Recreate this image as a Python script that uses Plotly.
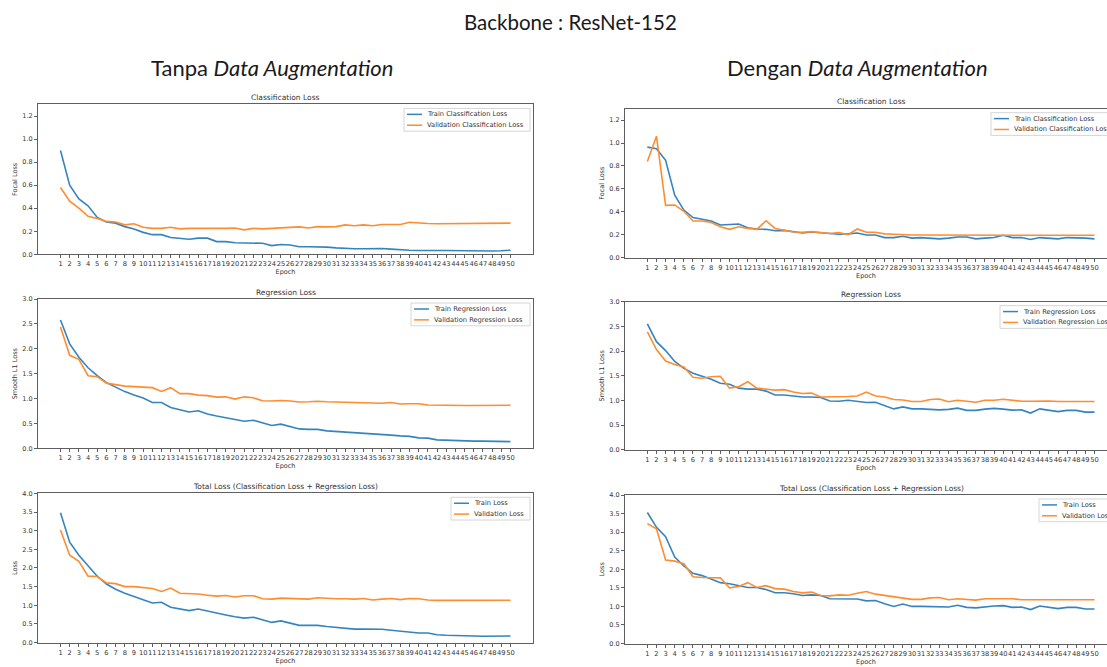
import plotly.graph_objects as go

W, H = 1107, 667

# ---------------- data ----------------
epochs = list(range(1, 51))
epoch_labels = [str(e) for e in epochs]

left_cls_train = [0.90, 0.60, 0.48, 0.42, 0.32, 0.28, 0.27, 0.24, 0.22, 0.19,
                  0.17, 0.17, 0.145, 0.14, 0.13, 0.14, 0.14, 0.11, 0.11, 0.10,
                  0.10, 0.10, 0.095, 0.075, 0.085, 0.08, 0.065, 0.065, 0.065, 0.062,
                  0.055, 0.05, 0.048, 0.048, 0.05, 0.05, 0.045, 0.038, 0.035, 0.032,
                  0.035, 0.033, 0.032, 0.03, 0.03, 0.03, 0.03, 0.028, 0.03, 0.035]
left_cls_val = [0.58, 0.46, 0.40, 0.33, 0.31, 0.285, 0.28, 0.255, 0.265, 0.235,
                0.225, 0.225, 0.235, 0.22, 0.225, 0.225, 0.22, 0.22, 0.225, 0.228,
                0.212, 0.225, 0.22, 0.225, 0.23, 0.232, 0.238, 0.228, 0.24, 0.238,
                0.24, 0.255, 0.248, 0.255, 0.248, 0.258, 0.258, 0.258, 0.278, 0.27,
                0.267, 0.265, 0.265, 0.267, 0.267, 0.267, 0.27, 0.27, 0.27, 0.27]
right_cls_train = [0.965, 0.95, 0.85, 0.545, 0.415, 0.35, 0.335, 0.32, 0.285, 0.29,
                   0.293, 0.26, 0.25, 0.247, 0.235, 0.238, 0.224, 0.215, 0.224, 0.218,
                   0.207, 0.204, 0.207, 0.215, 0.198, 0.198, 0.175, 0.175, 0.187, 0.17,
                   0.175, 0.172, 0.164, 0.17, 0.18, 0.18, 0.164, 0.17, 0.175, 0.195,
                   0.175, 0.175, 0.158, 0.175, 0.172, 0.164, 0.175, 0.175, 0.17, 0.164]
right_cls_val = [0.84, 1.06, 0.456, 0.46, 0.405, 0.32, 0.32, 0.307, 0.27, 0.247,
                 0.27, 0.255, 0.247, 0.322, 0.255, 0.241, 0.224, 0.221, 0.227, 0.218,
                 0.21, 0.218, 0.2, 0.25, 0.221, 0.221, 0.207, 0.204, 0.198, 0.198,
                 0.197, 0.197, 0.197, 0.197, 0.197, 0.196, 0.196, 0.196, 0.196, 0.196,
                 0.196, 0.195, 0.195, 0.195, 0.195, 0.195, 0.195, 0.195, 0.195, 0.195]

left_reg_train = [2.58, 2.10, 1.83, 1.62, 1.46, 1.32, 1.23, 1.14, 1.07, 1.01,
                  0.92, 0.92, 0.82, 0.775, 0.73, 0.755, 0.69, 0.65, 0.62, 0.575,
                  0.545, 0.565, 0.505, 0.46, 0.485, 0.43, 0.39, 0.38, 0.38, 0.35,
                  0.34, 0.32, 0.305, 0.305, 0.30, 0.29, 0.265, 0.25, 0.24, 0.21,
                  0.205, 0.17, 0.16, 0.16, 0.152, 0.145, 0.145, 0.14, 0.14, 0.135]
left_reg_val = [2.44, 1.87, 1.79, 1.46, 1.44, 1.31, 1.28, 1.25, 1.24, 1.225,
                1.22, 1.145, 1.22, 1.10, 1.10, 1.07, 1.06, 1.03, 1.035, 0.99,
                1.035, 1.015, 0.955, 0.95, 0.96, 0.95, 0.93, 0.935, 0.945, 0.935,
                0.93, 0.915, 0.915, 0.915, 0.895, 0.905, 0.92, 0.89, 0.895, 0.895,
                0.87, 0.865, 0.865, 0.86, 0.86, 0.86, 0.865, 0.865, 0.865, 0.865]
right_reg_train = [2.55, 2.19, 2.01, 1.79, 1.65, 1.55, 1.49, 1.43, 1.35, 1.33,
                   1.25, 1.23, 1.23, 1.19, 1.11, 1.11, 1.09, 1.07, 1.07, 1.06,
                   0.99, 0.985, 1.005, 0.98, 0.96, 0.965, 0.90, 0.83, 0.87, 0.83,
                   0.83, 0.82, 0.81, 0.82, 0.845, 0.80, 0.80, 0.825, 0.84, 0.825,
                   0.805, 0.81, 0.745, 0.83, 0.80, 0.775, 0.80, 0.80, 0.765, 0.765]
right_reg_val = [2.39, 2.03, 1.80, 1.73, 1.68, 1.47, 1.45, 1.48, 1.49, 1.25,
                 1.28, 1.38, 1.25, 1.23, 1.21, 1.22, 1.17, 1.14, 1.15, 1.07,
                 1.07, 1.08, 1.08, 1.09, 1.17, 1.09, 1.07, 1.02, 1.01, 0.98,
                 0.98, 1.02, 1.03, 0.975, 1.005, 0.985, 0.965, 1.005, 1.005, 1.025,
                 1.005, 0.985, 0.985, 0.99, 0.99, 0.98, 0.98, 0.98, 0.98, 0.98]

left_tot_train = [3.48, 2.69, 2.34, 2.06, 1.78, 1.57, 1.43, 1.32, 1.245, 1.15,
                  1.06, 1.08, 0.945, 0.91, 0.855, 0.90, 0.84, 0.78, 0.74, 0.69,
                  0.655, 0.68, 0.60, 0.54, 0.58, 0.52, 0.46, 0.46, 0.46, 0.43,
                  0.41, 0.38, 0.36, 0.36, 0.36, 0.355, 0.33, 0.30, 0.28, 0.255,
                  0.255, 0.21, 0.195, 0.195, 0.185, 0.175, 0.17, 0.165, 0.165, 0.175]
left_tot_val = [3.02, 2.34, 2.18, 1.78, 1.77, 1.60, 1.58, 1.50, 1.50, 1.465,
                1.45, 1.37, 1.46, 1.32, 1.315, 1.30, 1.27, 1.245, 1.26, 1.22,
                1.255, 1.255, 1.175, 1.165, 1.19, 1.18, 1.165, 1.165, 1.20, 1.18,
                1.175, 1.175, 1.165, 1.18, 1.14, 1.165, 1.18, 1.15, 1.18, 1.175,
                1.14, 1.13, 1.13, 1.13, 1.13, 1.13, 1.135, 1.135, 1.135, 1.135]
right_tot_train = [3.53, 3.13, 2.88, 2.33, 2.09, 1.89, 1.83, 1.74, 1.64, 1.61,
                   1.55, 1.51, 1.51, 1.455, 1.37, 1.37, 1.34, 1.295, 1.31, 1.295,
                   1.205, 1.20, 1.215, 1.20, 1.15, 1.16, 1.07, 1.00, 1.065, 1.00,
                   1.00, 0.995, 0.975, 0.985, 1.03, 0.975, 0.96, 0.995, 1.01, 1.02,
                   0.975, 0.985, 0.915, 1.01, 0.975, 0.94, 0.975, 0.975, 0.93, 0.93]
right_tot_val = [3.23, 3.09, 2.25, 2.22, 2.15, 1.80, 1.78, 1.78, 1.77, 1.50,
                 1.535, 1.64, 1.51, 1.56, 1.48, 1.465, 1.40, 1.365, 1.385, 1.295,
                 1.285, 1.31, 1.30, 1.355, 1.40, 1.33, 1.295, 1.25, 1.23, 1.19,
                 1.19, 1.23, 1.24, 1.18, 1.205, 1.18, 1.17, 1.205, 1.205, 1.22,
                 1.205, 1.18, 1.18, 1.18, 1.18, 1.18, 1.18, 1.18, 1.18, 1.18]

panel_titles = ["Classification Loss", "Classification Loss",
                "Regression Loss", "Regression Loss",
                "Total Loss (Classification Loss + Regression Loss)",
                "Total Loss (Classification Loss + Regression Loss)"]
y_labels = ["Focal Loss", "Focal Loss", "Smooth L1 Loss", "Smooth L1 Loss", "Loss", "Loss"]
train_names = ["Train Classification Loss", "Train Classification Loss",
               "Train Regression Loss", "Train Regression Loss",
               "Train Loss", "Train Loss"]
val_names = ["Validation Classification Loss", "Validation Classification Loss",
             "Validation Regression Loss", "Validation Regression Loss",
             "Validation Loss", "Validation Loss"]
train_series = [left_cls_train, right_cls_train, left_reg_train, right_reg_train,
                left_tot_train, right_tot_train]
val_series = [left_cls_val, right_cls_val, left_reg_val, right_reg_val,
              left_tot_val, right_tot_val]
y_ranges = [[0, 1.3], [0, 1.3], [0, 3.0], [0, 3.0], [0, 4.0], [0, 4.0]]
y_dticks = [0.2, 0.2, 0.5, 0.5, 0.5, 0.5]

main_title = "Backbone : ResNet-152"
col_titles = ["Tanpa <i>Data Augmentation</i>", "Dengan <i>Data Augmentation</i>"]

# ---------------- layout geometry (pixels) ----------------
def px(x):
    return x / W


def py(y):
    return 1 - y / H


# (left, right, top, bottom) of each plot area in pixels
boxes = [(38, 533, 101.7, 253.3), (625, 1107, 106, 256.7),
         (38, 533, 298.7, 449.7), (625, 1107, 301.3, 451.3),
         (38, 533, 495.3, 646.3), (625, 1107, 497, 647.3)]
x_ranges = [[-1.45, 52.45], [-1.45, 51.37]] * 3
is_left = [True, False, True, False, True, False]
# legend boxes: (left, right) in px
legend_lr = [(404, 530), (991, 1112), (411, 530), (1000, 1112), (451, 530), (1039, 1112)]

BLUE = "#3584c0"
ORANGE = "#ff8c2e"
TXT = "#333333"
SPINE = "#5f5f5f"
SMALL = "DejaVu Sans"

fig = go.Figure()
shapes = []
annotations = []

for i in range(6):
    k = "" if i == 0 else str(i + 1)
    x0, x1, t, b = boxes[i]
    fig.add_trace(go.Scatter(x=epochs, y=train_series[i], mode="lines", name=train_names[i],
                             line=dict(color=BLUE, width=1.6), xaxis="x" + k, yaxis="y" + k,
                             showlegend=False))
    fig.add_trace(go.Scatter(x=epochs, y=val_series[i], mode="lines", name=val_names[i],
                             line=dict(color=ORANGE, width=1.6), xaxis="x" + k, yaxis="y" + k,
                             showlegend=False))
    fig.layout["xaxis" + k] = dict(
        domain=[px(x0), px(x1)], range=x_ranges[i], anchor="y" + k,
        tickmode="array", tickvals=epochs, ticktext=epoch_labels, tickangle=0,
        ticks="outside", ticklen=3, tickwidth=0.8, tickcolor=SPINE,
        showline=True, linecolor=SPINE, linewidth=1, mirror=True,
        showgrid=False, zeroline=False,
        tickfont=dict(family=SMALL, size=6.7, color=TXT),
        title=dict(text="Epoch", font=dict(family=SMALL, size=6.5, color=TXT), standoff=1),
    )
    fig.layout["yaxis" + k] = dict(
        domain=[py(b), py(t)], range=y_ranges[i], anchor="x" + k,
        tick0=0, dtick=y_dticks[i], tickformat=".1f",
        ticks="outside", ticklen=3, tickwidth=0.8, tickcolor=SPINE,
        showline=True, linecolor=SPINE, linewidth=1, mirror=is_left[i],
        showgrid=False, zeroline=False,
        tickfont=dict(family=SMALL, size=6.5, color=TXT),
        title=dict(text=y_labels[i], font=dict(family=SMALL, size=6.5, color=TXT), standoff=4),
    )
    # panel title
    annotations.append(dict(text=panel_titles[i], x=px((x0 + (x1 if is_left[i] else 1117)) / 2),
                            y=py(t - 7), xref="paper", yref="paper", showarrow=False,
                            xanchor="center", yanchor="middle",
                            font=dict(family=SMALL, size=7.5, color=TXT)))
    # legend (drawn manually, matplotlib style)
    ll, lr = legend_lr[i]
    lt = t + 4
    lb = lt + 23
    shapes.append(dict(type="rect", xref="paper", yref="paper", x0=px(ll), x1=px(lr),
                       y0=py(lb), y1=py(lt), line=dict(color="#cccccc", width=0.8),
                       fillcolor="rgba(255,255,255,0.9)", layer="above"))
    for j, (nm, col) in enumerate([(train_names[i], BLUE), (val_names[i], ORANGE)]):
        yy = lt + 6 + j * 11
        shapes.append(dict(type="line", xref="paper", yref="paper", x0=px(ll + 3), x1=px(ll + 18),
                           y0=py(yy), y1=py(yy), line=dict(color=col, width=1.5), layer="above"))
        annotations.append(dict(text=nm, x=px(ll + 21), y=py(yy), xref="paper", yref="paper",
                                showarrow=False, xanchor="left", yanchor="middle",
                                font=dict(family=SMALL, size=6.7, color=TXT)))

annotations.append(dict(text=main_title, x=px(570), y=py(18), xref="paper", yref="paper",
                        showarrow=False, xanchor="center", yanchor="middle",
                        font=dict(family="Lato", size=20.5, color="#1a1a1a")))
annotations.append(dict(text=col_titles[0], x=px(272), y=py(64), xref="paper", yref="paper",
                        showarrow=False, xanchor="center", yanchor="middle",
                        font=dict(family="Lato", size=22, color="#1a1a1a")))
annotations.append(dict(text=col_titles[1], x=px(857), y=py(64), xref="paper", yref="paper",
                        showarrow=False, xanchor="center", yanchor="middle",
                        font=dict(family="Lato", size=22, color="#1a1a1a")))

fig.update_layout(width=W, height=H, margin=dict(l=0, r=0, t=0, b=0),
                  paper_bgcolor="white", plot_bgcolor="white",
                  shapes=shapes, annotations=annotations, showlegend=False)

fig.write_html("out.html", config={"displayModeBar": False},
               post_script="document.body.style.margin='0';document.body.style.overflow='hidden';")
